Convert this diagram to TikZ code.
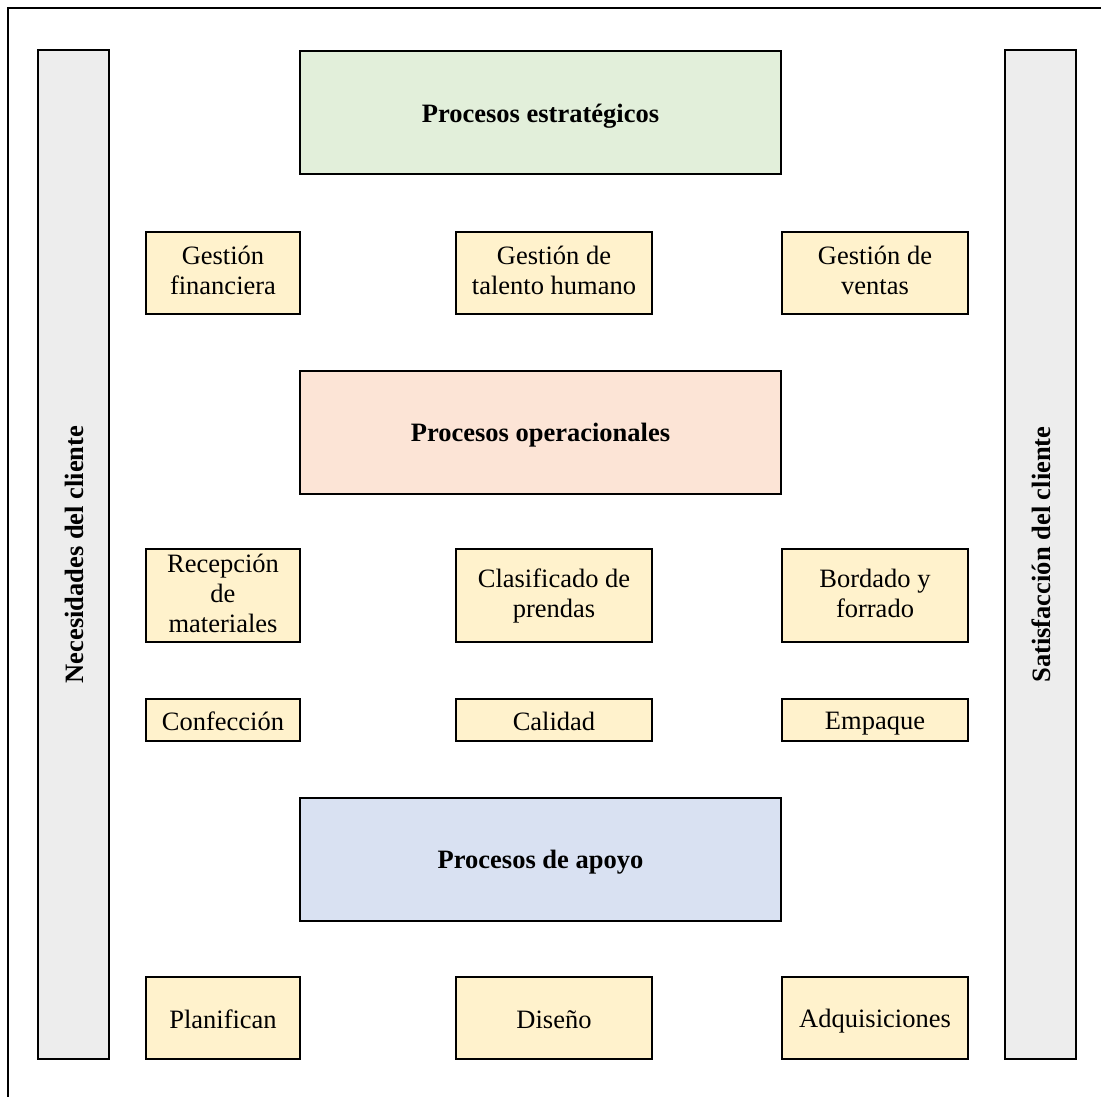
\documentclass[tikz,border=0pt]{standalone}
\usepackage{fontspec}
\setmainfont{Liberation Serif}
\definecolor{estfill}{HTML}{E2EFDA}
\definecolor{opefill}{HTML}{FCE4D6}
\definecolor{apofill}{HTML}{D9E1F2}
\definecolor{itemfill}{HTML}{FFF2CC}
\definecolor{sidefill}{HTML}{EDEDED}
% line strut that keeps every label on the same baseline
\newcommand\lblstrut{\rule[-0.17em]{0pt}{1.12em}}
\begin{document}
\begin{tikzpicture}[x=1pt, y=-1pt,
  every node/.style={font=\fontsize{26.5}{30}\selectfont, align=center, inner sep=0pt,
    execute at begin node=\lblstrut, execute at end node=\lblstrut},
  box/.style={draw=black, line width=2pt, rectangle},
  group/.style={box, minimum width=481pt, minimum height=123pt, font=\fontsize{26.5}{30}\selectfont\bfseries},
  item/.style={box, fill=itemfill, minimum height=82pt},
  side/.style={box, fill=sidefill, rotate=90, minimum width=1009pt, minimum height=71pt,
    font=\fontsize{26.5}{30}\selectfont\bfseries},
  wA/.style={minimum width=154pt},
  wB/.style={minimum width=196pt},
  wC/.style={minimum width=186pt}]
\useasboundingbox (0,0) rectangle (1101,1097);

% outer frame: top and left edges only
\coordinate (fA) at (1101,8);
\coordinate (fB) at (8,8);
\coordinate (fC) at (8,1097);
\draw[line width=2.2pt] (fA) -- (fB) -- (fC);

% side bars
\node[side] (nec) at (73,554.5) {Necesidades del cliente};
\node[side] (sat) at (1040.5,554.5) {Satisfacción del cliente};

% process groups
\node[group, fill=estfill] (est) at (540.5,113) {Procesos estratégicos};
\node[group, fill=opefill] (ope) at (540.5,432) {Procesos operacionales};
\node[group, fill=apofill] (apo) at (540.5,859) {Procesos de apoyo};

% strategic processes
\node[item, wA] (gf)  at (223,272.5) {Gestión\\financiera};
\node[item, wB] (gth) at (554,272.5) {Gestión de\\talento humano};
\node[item, wC] (gv)  at (875,272.5) {Gestión de\\ventas};

% operational processes
\node[item, wA, minimum height=93pt] (rm) at (223,595.5) {Recepción\\de\\materiales};
\node[item, wB, minimum height=93pt] (cp) at (554,595.5) {Clasificado de\\prendas};
\node[item, wC, minimum height=93pt] (bf) at (875,595.5) {Bordado y\\forrado};

\node[item, wA, minimum height=42pt] (conf) at (223,720) {Confección};
\node[item, wB, minimum height=42pt] (cal)  at (554,720) {Calidad};
\node[item, wC, minimum height=42pt] (emp)  at (875,720) {Empaque};

% support processes
\node[item, wA] (plan) at (223,1018) {Planifican};
\node[item, wB] (dis)  at (554,1018) {Diseño};
\node[item, wC] (adq)  at (875,1018) {Adquisiciones};
\end{tikzpicture}
\end{document}
